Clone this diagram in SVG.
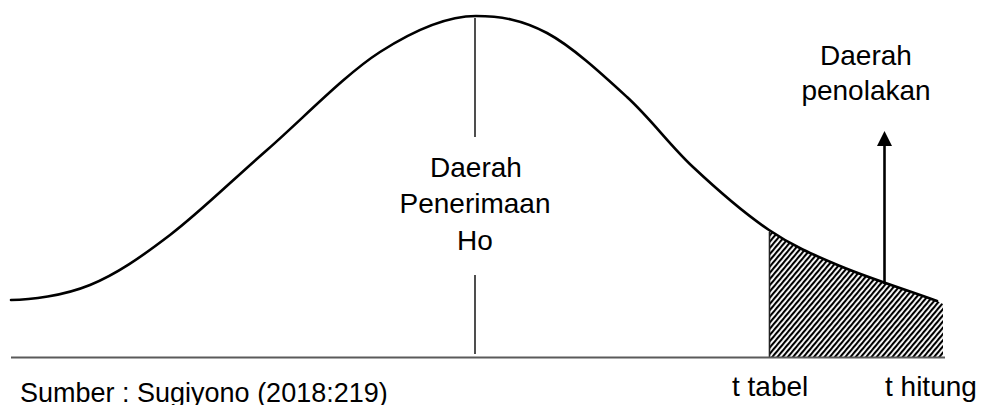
<svg xmlns="http://www.w3.org/2000/svg" width="984" height="405" viewBox="0 0 984 405">
<style>
  .lbl { font-family: "Liberation Sans", Arial, sans-serif; font-size: 28px; fill: #000; }
  .curve { fill: none; stroke: #000; stroke-width: 2.6; stroke-linejoin: round; stroke-linecap: round; }
  .axis { stroke: #5a5a5a; stroke-width: 2.2; }
  .thin { stroke: #222; stroke-width: 1.6; }
</style>
<defs>
  <pattern id="hatch" width="4" height="4" patternUnits="userSpaceOnUse" patternTransform="rotate(40)">
    <rect x="0" y="0" width="2.1" height="4" fill="#000"/>
  </pattern>
</defs>
<rect width="984" height="405" fill="#fff"/>
<g id="rejection-area">
  <path d="M769,230 C793.5,246.5 812,254.2 840,266 C868,277.8 904.7,289.3 937,301 L943,304 L943,357 L769,357 Z" fill="url(#hatch)"/>
  <line x1="769.5" y1="232" x2="769.5" y2="357" class="thin"/>
</g>
<g id="curve">
  <path class="curve" d="M11,300 C30,300 63.5,295.8 90,285 C116.5,274.2 140.5,257.5 170,235 C199.5,212.5 232,180.5 267,150 C302,119.5 345.2,74.3 380,52 C414.8,29.7 448,16 476,16 C500,16 521.8,19.5 547,33 C572.2,46.5 602.7,74.7 627,97 C651.3,119.3 669.3,144.8 693,167 C716.7,189.2 744.5,213.5 769,230 C793.5,246.5 812,254.2 840,266 C868,277.8 904.7,289.3 937,301"/>
</g>
<g id="center-line">
  <line x1="475" y1="18" x2="475" y2="137" class="thin"/>
  <line x1="475" y1="275" x2="475" y2="354" class="thin"/>
</g>
<g id="baseline">
  <line x1="11" y1="357.5" x2="945" y2="357.5" class="axis"/>
</g>
<g id="connectors">
  <line x1="884.5" y1="284" x2="884.5" y2="144" stroke="#000" stroke-width="2.6"/>
  <polygon points="884.5,131 877,146 892,146" fill="#000"/>
</g>
<g id="acceptance-label">
  <text class="lbl" x="476" y="177" text-anchor="middle">Daerah</text>
  <text class="lbl" x="475" y="213" text-anchor="middle">Penerimaan</text>
  <text class="lbl" x="475" y="250" text-anchor="middle">Ho</text>
</g>
<g id="rejection-label">
  <text class="lbl" x="866" y="65" text-anchor="middle">Daerah</text>
  <text class="lbl" x="866" y="100" text-anchor="middle">penolakan</text>
</g>
<g id="axis-labels">
  <text class="lbl" x="732" y="396">t tabel</text>
  <text class="lbl" x="885" y="396">t hitung</text>
</g>
<g id="source">
  <text class="lbl" x="20" y="402" style="font-size:27px">Sumber : Sugiyono (2018:219)</text>
</g>
</svg>
